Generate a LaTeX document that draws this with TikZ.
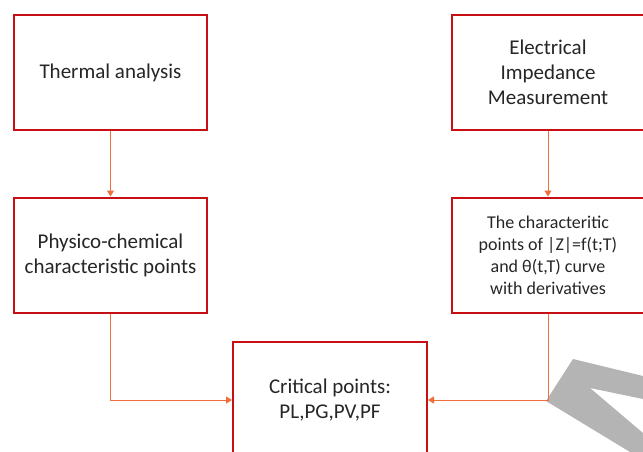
\documentclass[tikz,border=0pt]{standalone}
\usepackage{fontspec}
\setmainfont{Carlito}
\usepackage{xcolor}
\definecolor{boxred}{RGB}{200,16,20}
\definecolor{linkorange}{RGB}{240,110,60}
\definecolor{textgray}{RGB}{38,38,38}
\definecolor{shadegray}{RGB}{180,180,180}
\usepackage{tikz}
\usetikzlibrary{arrows.meta,positioning}

\begin{document}
\begin{tikzpicture}[x=1pt, y=-1pt,
    blk/.style={rectangle, draw=boxred, line width=2pt, fill=white,
                minimum width=193pt, minimum height=115pt,
                align=center, text=textgray,
                font=\fontsize{21}{25}\selectfont},
    blksmall/.style={blk, font=\fontsize{18}{22}\selectfont},
    arr/.style={-{Triangle[length=6pt,width=7pt]}, line width=1pt, linkorange},
  ]
    \useasboundingbox (0,0) rectangle (643,452);
    \fill[white] (0,0) rectangle (643,452);

    % grey arrow shape in the lower right corner
    \fill[shadegray] (546,401) -- (573,359) -- (643,376) -- (643,399)
        -- (590,388) -- (643,433) -- (643,452) -- (630,452) -- cycle;
    \fill[shadegray] (643,258) -- (639,266) -- (643,274) -- cycle;

    \node[blk] (thermal) at (110.5,72.5) {Thermal analysis};
    \node[blk] (physico) at (110.5,255) {Physico-chemical\\characteristic points};
    \node[blk] (elec) at (548,72.5) {Electrical\\Impedance\\Measurement};
    \node[blksmall] (charpts) at (548,255)
        {The characteritic\\points of |Z|=f(t;T)\\and θ(t,T) curve\\with derivatives};
    \node[blk, minimum width=194pt, minimum height=116pt] (crit) at (330,400)
        {Critical points:\\PL,PG,PV,PF};

    \draw[arr] (thermal)--(physico);
    \draw[arr] (elec)--(charpts);
    \draw[arr] (physico.south) |- (crit.west);
    \draw[arr] (charpts.south) |- (crit.east);
\end{tikzpicture}
\end{document}
